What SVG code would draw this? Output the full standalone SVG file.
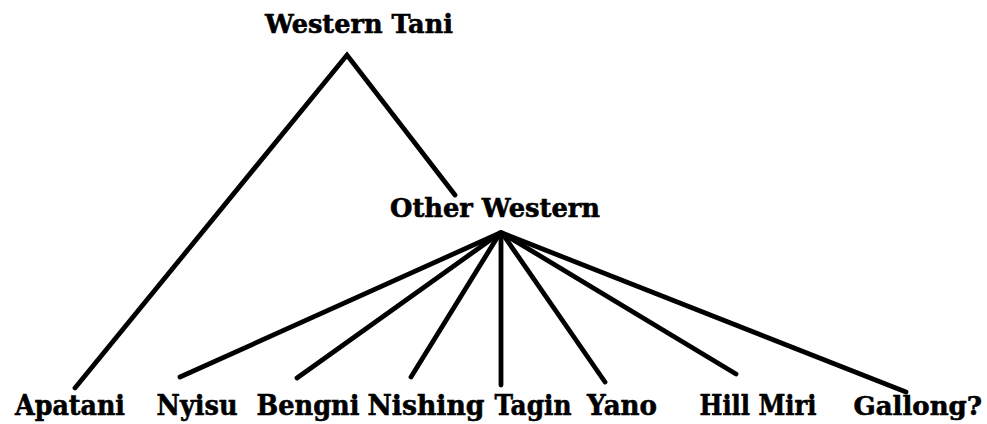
<svg xmlns="http://www.w3.org/2000/svg" width="987" height="424" viewBox="0 0 987 424">
  <style>
    .lbl { font-family: "DejaVu Serif", "Liberation Serif", serif; font-weight: bold; font-size: 28px; fill: #000; stroke: #000; stroke-width: 0.6; text-anchor: middle; }
    .top { font-size: 26px; }
    .right { text-anchor: end; font-size: 26px; }
    .edge { stroke: #000; stroke-width: 4.8; stroke-linecap: round; fill: none; }
  </style>
  <rect width="987" height="424" fill="#fff"/>
  <g id="connectors">
    <polyline class="edge" points="75,388 347,55 455,195"/>
    <line class="edge" x1="500" y1="233" x2="180" y2="377"/>
    <line class="edge" x1="500" y1="233" x2="297" y2="378"/>
    <line class="edge" x1="500" y1="233" x2="411" y2="377"/>
    <line class="edge" x1="501" y1="233" x2="501" y2="385"/>
    <line class="edge" x1="502" y1="233" x2="605" y2="382"/>
    <line class="edge" x1="502" y1="233" x2="736" y2="374"/>
    <line class="edge" x1="502" y1="233" x2="906" y2="392"/>
  </g>
  <g id="western-tani"><text class="lbl top" x="359" y="33" textLength="188" lengthAdjust="spacingAndGlyphs">Western Tani</text></g>
  <g id="other-western"><text class="lbl top" x="495" y="217" textLength="210" lengthAdjust="spacingAndGlyphs">Other Western</text></g>
  <g id="apatani"><text class="lbl" x="70" y="415" textLength="110" lengthAdjust="spacingAndGlyphs">Apatani</text></g>
  <g id="nyisu"><text class="lbl" x="197" y="415" textLength="81" lengthAdjust="spacingAndGlyphs">Nyisu</text></g>
  <g id="bengni"><text class="lbl" x="308" y="415" textLength="103" lengthAdjust="spacingAndGlyphs">Bengni</text></g>
  <g id="nishing"><text class="lbl" x="426" y="415" textLength="117" lengthAdjust="spacingAndGlyphs">Nishing</text></g>
  <g id="tagin"><text class="lbl" x="533" y="415" textLength="77" lengthAdjust="spacingAndGlyphs">Tagin</text></g>
  <g id="yano"><text class="lbl" x="622" y="415" textLength="70" lengthAdjust="spacingAndGlyphs">Yano</text></g>
  <g id="hill-miri"><text class="lbl" x="758" y="415" textLength="117" lengthAdjust="spacingAndGlyphs">Hill Miri</text></g>
  <g id="gallong"><text class="lbl right" x="982" y="415">Gallong?</text></g>
</svg>
